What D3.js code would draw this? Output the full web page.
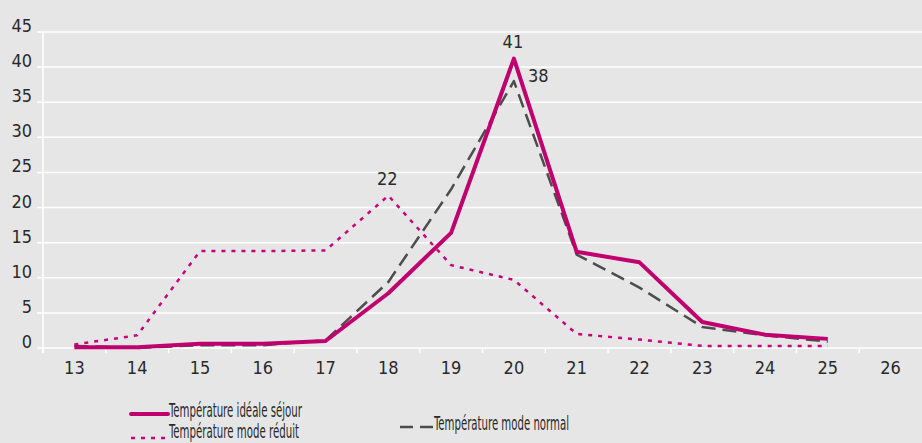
<!DOCTYPE html>
<html>
<head>
<meta charset="utf-8">
<script src="https://d3js.org/d3.v7.min.js"></script>
<style>
  body { margin: 0; background: #e6e6e6; }
  svg text { font-family: "Liberation Sans Narrow", "Arial Narrow", "DejaVu Sans Condensed", sans-serif; fill: #2a2a2a; }
</style>
</head>
<body>
<div id="chart"></div>
<script>

// categories (temperatures, °C)
var temps = ["13", "14", "15", "16", "17", "18", "19", "20", "21", "22", "23", "24", "25", "26"];

// series values (%)
var ideale = [0.1, 0.1, 0.6, 0.6, 1.0, 7.8, 16.4, 41.2, 13.7, 12.2, 3.7, 1.9, 1.3];
var normal = [0.3, 0.0, 0.4, 0.4, 1.1, 9.4, 22.6, 38.0, 13.3, 8.6, 3.0, 1.8, 0.9];
var reduit = [0.5, 1.8, 13.8, 13.8, 13.9, 21.7, 11.8, 9.7, 2.0, 1.2, 0.3, 0.3, 0.3];

var yTicks = [0, 5, 10, 15, 20, 25, 30, 35, 40, 45];

// value labels: [series, index, text]
var valueLabels = [
  ["ideale", 7, "41"],
  ["normal", 7, "38"],
  ["reduit", 5, "22"]
];

var W = 922, H = 443;
var margin = {top: 32, right: 0, bottom: 95, left: 43};

var svg = d3.select("#chart").append("svg")
  .attr("width", W)
  .attr("height", H);

svg.append("rect").attr("width", W).attr("height", H).attr("fill", "#e6e6e6");

var x = d3.scaleBand()
  .domain(temps)
  .range([margin.left, 922]);

var y = d3.scaleLinear()
  .domain([0, 45])
  .range([H - margin.bottom, margin.top]);

function cx(i) { return x(temps[i]) + x.bandwidth() / 2; }

// grid lines
svg.append("g")
  .selectAll("line")
  .data(yTicks)
  .enter()
  .append("line")
    .attr("x1", margin.left - 6)
    .attr("x2", W)
    .attr("y1", function (d) { return y(d); })
    .attr("y2", function (d) { return y(d); })
    .attr("stroke", "#ffffff")
    .attr("stroke-width", 1.5);

// y axis line
svg.append("line")
  .attr("x1", margin.left).attr("x2", margin.left)
  .attr("y1", y(45)).attr("y2", y(0) + 5)
  .attr("stroke", "#ffffff").attr("stroke-width", 1.5);

// y labels
svg.append("g")
  .selectAll("text")
  .data(yTicks)
  .enter()
  .append("text")
    .attr("x", 32)
    .attr("y", function (d) { return y(d); })
    .attr("text-anchor", "end")
    .style("font-size", "18px")
    .text(function (d) { return d; });

// x ticks
var xEdges = temps.map(function (t) { return x(t); });
svg.append("g")
  .selectAll("line")
  .data(xEdges)
  .enter()
  .append("line")
    .attr("x1", function (d) { return d; })
    .attr("x2", function (d) { return d; })
    .attr("y1", y(0))
    .attr("y2", y(0) + 5)
    .attr("stroke", "#ffffff")
    .attr("stroke-width", 1.5);

// x labels
svg.append("g")
  .selectAll("text")
  .data(temps)
  .enter()
  .append("text")
    .attr("x", function (d) { return x(d) + x.bandwidth() / 2; })
    .attr("y", y(0) + 26)
    .attr("text-anchor", "middle")
    .style("font-size", "18px")
    .text(function (d) { return d; });

var line = d3.line()
  .x(function (d, i) { return cx(i); })
  .y(function (d) { return y(d); });

var styles = {
  reduit: {color: "#c8007c", width: 2.5, dash: "4,6"},
  normal: {color: "#4d4d4d", width: 2.5, dash: "14,7"},
  ideale: {color: "#c0006f", width: 4, dash: null}
};
var seriesData = {ideale: ideale, normal: normal, reduit: reduit};

["reduit", "normal", "ideale"].forEach(function (k) {
  svg.append("path")
    .datum(seriesData[k])
    .attr("d", line)
    .attr("fill", "none")
    .attr("stroke", styles[k].color)
    .attr("stroke-width", styles[k].width)
    .attr("stroke-linejoin", "round")
    .attr("stroke-dasharray", styles[k].dash);
});

// value labels
valueLabels.forEach(function (v) {
  var k = v[0], i = v[1];
  var px = cx(i), py = y(seriesData[k][i]);
  var t = svg.append("text")
    .style("font-size", "18px")
    .text(v[2]);
  if (k == "normal") {
    t.attr("x", px + 14).attr("y", py + 1).attr("text-anchor", "start");
  } else {
    t.attr("x", px - 1).attr("y", py - 11).attr("text-anchor", "middle");
  }
});

// legend (text squeezed to the condensed width of the original)
var legend = [
  {key: "ideale", label: "Température idéale séjour", x1: 131, x2: 168, ly: 414, ty: 417, w: 133},
  {key: "reduit", label: "Température mode réduit", x1: 131, x2: 168, ly: 438, ty: 438, w: 130},
  {key: "normal", label: "Température mode normal", x1: 400, x2: 433, ly: 427, ty: 430, w: 135}
];
legend.forEach(function (l) {
  svg.append("line")
    .attr("x1", l.x1).attr("x2", l.x2)
    .attr("y1", l.ly).attr("y2", l.ly)
    .attr("stroke", styles[l.key].color)
    .attr("stroke-width", styles[l.key].width)
    .attr("stroke-dasharray", l.key == "normal" ? "13,7" : styles[l.key].dash)
    .attr("stroke-linecap", l.key == "ideale" ? "round" : "butt");
  svg.append("text")
    .attr("x", l.x2 + 1)
    .attr("y", l.ty)
    .attr("textLength", l.w)
    .attr("lengthAdjust", "spacingAndGlyphs")
    .style("font-size", "19.5px")
    .text(l.label);
});

</script>
</body>
</html>
